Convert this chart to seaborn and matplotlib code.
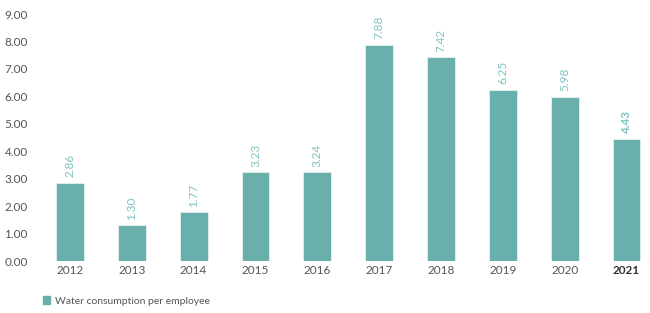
import matplotlib
matplotlib.use("Agg")
import matplotlib.pyplot as plt
import seaborn as sns
import pandas as pd
from matplotlib.patches import Patch

years = ["2012", "2013", "2014", "2015", "2016", "2017", "2018", "2019", "2020", "2021"]
values = [2.86, 1.30, 1.77, 3.23, 3.24, 7.88, 7.42, 6.25, 5.98, 4.43]
value_labels = ["2.86", "1.30", "1.77", "3.23", "3.24", "7.88", "7.42", "6.25", "5.98", "4.43"]
y_ticks = [0, 1, 2, 3, 4, 5, 6, 7, 8, 9]
series_name = "Water consumption per employee"

sns.set_theme(style="white")
plt.rcParams["font.family"] = ["Lato", "DejaVu Sans"]

bar_color = "#69AFAC"
label_color = "#7DC2C0"
tick_color = "#555555"

df = pd.DataFrame({"year": years, "value": values})

fig = plt.figure(figsize=(6.5, 3.13), dpi=100)
ax = fig.add_axes([0.06, 0.166, 0.94, 0.789])
sns.barplot(data=df, x="year", y="value", color=bar_color, width=0.45,
            edgecolor="#E6F2F1", linewidth=0.6, saturation=1, ax=ax)

ax.set_xlim(-0.5, 9.38)
ax.set_ylim(0, 9)
ax.set_yticks(y_ticks)
ax.set_yticklabels([f"{t:.2f}" for t in y_ticks])
ax.set_xlabel("")
ax.set_ylabel("")
for s in ax.spines.values():
    s.set_visible(False)
ax.tick_params(axis="both", length=0, labelsize=8.5, colors=tick_color, pad=3)
ax.tick_params(axis="y", pad=8)
for lbl in ax.get_xticklabels():
    if lbl.get_text() == "2021":
        lbl.set_fontweight("bold")
        lbl.set_color("#333333")

for i, (v, t) in enumerate(zip(values, value_labels)):
    ax.annotate(t, xy=(i, v), xytext=(0, 4), textcoords="offset points",
                rotation=90, ha="center", va="bottom", fontsize=8.5,
                color=label_color,
                fontweight="bold" if years[i] == "2021" else "normal")

handle = Patch(facecolor=bar_color, edgecolor=bar_color)
fig.legend([handle], [series_name], loc="lower left", bbox_to_anchor=(0.052, -0.006),
           frameon=False, fontsize=7.5, handlelength=0.7, handleheight=0.7,
           handletextpad=0.4, labelcolor=tick_color)

fig.savefig("out.png", dpi=100)
